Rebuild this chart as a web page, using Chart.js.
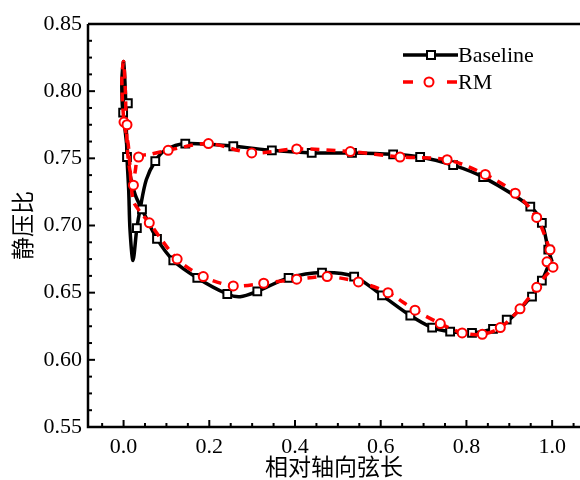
<!DOCTYPE html>
<html>
<head>
<meta charset="utf-8">
<script src="https://cdn.jsdelivr.net/npm/chart.js@4.4.0/dist/chart.umd.min.js"></script>
<style>
  html, body { margin: 0; padding: 0; background: #fff; }
  #wrap { width: 580px; height: 480px; }
</style>
</head>
<body>
<div id="wrap"><canvas id="chart" width="580" height="480"></canvas></div>
<script>
// ==========================================
// DATA
// ==========================================

const seriesNames = ['Baseline', 'RM'];
const xTicks = [0.0, 0.2, 0.4, 0.6, 0.8, 1.0];
const yTicks = [0.55, 0.60, 0.65, 0.70, 0.75, 0.80, 0.85];

// Baseline: smooth curve path around the loop
const baseLineX = [1.000, 0.991, 0.976, 0.949, 0.839, 0.769, 0.692, 0.629, 0.533, 0.439, 0.346, 0.256, 0.144, 0.097, 0.074, 0.053, 0.039, 0.031, 0.022, 0.015, 0.012, 0.008, 0.006, 0.004, 0.000, -0.004, -0.003, -0.001, 0.006, 0.015, 0.027, 0.043, 0.078, 0.116, 0.172, 0.242, 0.272, 0.312, 0.385, 0.463, 0.538, 0.603, 0.669, 0.720, 0.762, 0.813, 0.862, 0.897, 0.951, 0.976, 0.993, 1.000];
const baseLineY = [0.673, 0.682, 0.702, 0.714, 0.736, 0.745, 0.751, 0.753, 0.754, 0.754, 0.756, 0.759, 0.761, 0.756, 0.748, 0.734, 0.713, 0.698, 0.674, 0.697, 0.726, 0.751, 0.779, 0.801, 0.822, 0.808, 0.790, 0.784, 0.764, 0.738, 0.723, 0.712, 0.690, 0.674, 0.661, 0.649, 0.647, 0.651, 0.661, 0.665, 0.662, 0.648, 0.633, 0.624, 0.621, 0.620, 0.623, 0.629, 0.647, 0.659, 0.671, 0.673];

// Baseline: square markers
const baseMarkX = [0.010, -0.001, 0.008, 0.031, 0.043, 0.074, 0.144, 0.256, 0.346, 0.439, 0.533, 0.629, 0.692, 0.769, 0.839, 0.949, 0.976, 0.991, 0.976, 0.953, 0.894, 0.862, 0.813, 0.762, 0.720, 0.669, 0.603, 0.538, 0.463, 0.385, 0.312, 0.242, 0.172, 0.116, 0.078];
const baseMarkY = [0.791, 0.784, 0.751, 0.698, 0.712, 0.748, 0.761, 0.759, 0.756, 0.754, 0.754, 0.753, 0.751, 0.745, 0.736, 0.714, 0.702, 0.682, 0.659, 0.647, 0.630, 0.623, 0.620, 0.621, 0.624, 0.633, 0.648, 0.662, 0.665, 0.661, 0.651, 0.649, 0.661, 0.674, 0.690];

// RM: dashed curve path
const rmLineX = [0.995, 0.964, 0.914, 0.844, 0.755, 0.645, 0.529, 0.404, 0.299, 0.198, 0.104, 0.062, 0.035, 0.027, 0.023, 0.011, 0.006, 0.004, 0.000, -0.004, 0.001, 0.011, 0.022, 0.039, 0.060, 0.125, 0.186, 0.256, 0.327, 0.404, 0.475, 0.548, 0.617, 0.680, 0.739, 0.790, 0.837, 0.879, 0.925, 0.964, 0.986, 1.002, 0.988, 0.995];
const rmLineY = [0.682, 0.706, 0.724, 0.738, 0.749, 0.751, 0.755, 0.757, 0.754, 0.761, 0.756, 0.753, 0.751, 0.740, 0.730, 0.749, 0.779, 0.801, 0.822, 0.808, 0.777, 0.760, 0.719, 0.710, 0.702, 0.675, 0.662, 0.655, 0.657, 0.660, 0.662, 0.658, 0.650, 0.637, 0.627, 0.620, 0.619, 0.624, 0.638, 0.654, 0.663, 0.669, 0.673, 0.682];

// RM: circle markers
const rmMarkX = [0.001, 0.008, 0.023, 0.035, 0.060, 0.104, 0.198, 0.299, 0.404, 0.529, 0.645, 0.755, 0.844, 0.914, 0.964, 0.995, 0.988, 1.002, 0.964, 0.925, 0.879, 0.837, 0.790, 0.739, 0.680, 0.617, 0.548, 0.475, 0.404, 0.327, 0.256, 0.186, 0.125];
const rmMarkY = [0.777, 0.775, 0.730, 0.751, 0.702, 0.756, 0.761, 0.754, 0.757, 0.755, 0.751, 0.749, 0.738, 0.724, 0.706, 0.682, 0.673, 0.669, 0.654, 0.638, 0.624, 0.619, 0.620, 0.627, 0.637, 0.650, 0.658, 0.662, 0.660, 0.657, 0.655, 0.662, 0.675];

// ==========================================
// HELPERS
// ==========================================

const SERIF = "'Liberation Serif', 'Times New Roman', serif";
const CJK = "'Noto Sans CJK SC', sans-serif";

function toPoints(xs, ys) {
  return xs.map((x, i) => ({ x: x, y: ys[i] }));
}

// frame, inward ticks and the legend are drawn by hand
const framePlugin = {
  id: 'frameAndLegend',
  afterDraw(chart) {
    const { ctx, chartArea: a, scales } = chart;
    const xs = scales.x, ys = scales.y;
    ctx.save();
    ctx.strokeStyle = '#000';
    ctx.lineWidth = 2.5;
    ctx.beginPath();
    ctx.moveTo(a.left, a.top);
    ctx.lineTo(a.right, a.top);
    ctx.moveTo(a.left, a.top);
    ctx.lineTo(a.left, a.bottom);
    ctx.lineTo(a.right, a.bottom);
    ctx.stroke();

    // x ticks: major every 0.2, minor every 0.05
    ctx.lineWidth = 2;
    for (let i = -2; i <= 21; i++) {
      const v = i * 0.05;
      const px = xs.getPixelForValue(v);
      if (px < a.left + 2 || px > a.right) continue;
      const len = i % 4 === 0 ? 7 : 4;
      ctx.beginPath();
      ctx.moveTo(px, a.bottom);
      ctx.lineTo(px, a.bottom - len);
      ctx.stroke();
    }
    // y ticks: major every 0.05, minor every 0.0125
    for (let i = 0; i <= 24; i++) {
      const v = 0.55 + i * 0.0125;
      const py = ys.getPixelForValue(v);
      const len = i % 4 === 0 ? 7 : 4;
      ctx.beginPath();
      ctx.moveTo(a.left, py);
      ctx.lineTo(a.left + len, py);
      ctx.stroke();
    }

    // legend
    const lx0 = 403, lx1 = 458, ly = [55, 82];
    ctx.font = '22px ' + SERIF;
    ctx.fillStyle = '#000';
    ctx.textBaseline = 'middle';
    ctx.textAlign = 'left';

    ctx.strokeStyle = '#000';
    ctx.lineWidth = 3.5;
    ctx.beginPath();
    ctx.moveTo(lx0, ly[0]);
    ctx.lineTo(lx1, ly[0]);
    ctx.stroke();
    ctx.fillStyle = '#fff';
    ctx.lineWidth = 2;
    ctx.fillRect(427, ly[0] - 4, 8, 8);
    ctx.strokeRect(427, ly[0] - 4, 8, 8);
    ctx.fillStyle = '#000';
    ctx.fillText(seriesNames[0], lx1, ly[0] + 1);

    ctx.strokeStyle = '#ff0000';
    ctx.lineWidth = 3.5;
    ctx.setLineDash([10, 34]);
    ctx.beginPath();
    ctx.moveTo(lx0, ly[1]);
    ctx.lineTo(lx1, ly[1]);
    ctx.stroke();
    ctx.setLineDash([]);
    ctx.lineWidth = 2;
    ctx.fillStyle = '#fff';
    ctx.beginPath();
    ctx.arc(429, ly[1], 4.5, 0, Math.PI * 2);
    ctx.fill();
    ctx.stroke();
    ctx.fillStyle = '#000';
    ctx.fillText(seriesNames[1], lx1, ly[1] + 1);
    ctx.restore();
  }
};

// ==========================================
// CHART
// ==========================================

new Chart(document.getElementById('chart'), {
  type: 'scatter',
  data: {
    datasets: [
      {
        label: seriesNames[1] + ' markers',
        data: toPoints(rmMarkX, rmMarkY),
        showLine: false,
        pointStyle: 'circle',
        pointRadius: 4.5,
        pointBorderWidth: 2,
        pointBorderColor: '#ff0000',
        pointBackgroundColor: '#fff',
        order: 1
      },
      {
        label: seriesNames[1],
        data: toPoints(rmLineX, rmLineY),
        showLine: true,
        borderColor: '#ff0000',
        borderWidth: 3.5,
        borderDash: [9, 7],
        tension: 0.3,
        pointRadius: 0,
        order: 2
      },
      {
        label: seriesNames[0] + ' markers',
        data: toPoints(baseMarkX, baseMarkY),
        showLine: false,
        pointStyle: 'rect',
        pointRadius: 5.5,
        pointBorderWidth: 2,
        pointBorderColor: '#000',
        pointBackgroundColor: '#fff',
        order: 3
      },
      {
        label: seriesNames[0],
        data: toPoints(baseLineX, baseLineY),
        showLine: true,
        borderColor: '#000',
        borderWidth: 3.5,
        tension: 0.3,
        pointRadius: 0,
        order: 4
      }
    ]
  },
  options: {
    responsive: false,
    animation: false,
    devicePixelRatio: 1,
    layout: { autoPadding: false, padding: { top: 24, left: 0, right: 0, bottom: 0 } },
    plugins: {
      legend: { display: false },
      tooltip: { enabled: false }
    },
    scales: {
      x: {
        type: 'linear',
        min: -0.083,
        max: 1.065,
        afterBuildTicks: s => { s.ticks = xTicks.map(v => ({ value: v })); },
        afterFit: s => { s.height = 53; s.paddingRight = 0; },
        grid: { display: false, drawTicks: false },
        border: { display: false },
        ticks: {
          padding: 7,
          color: '#000',
          autoSkip: false,
          maxRotation: 0,
          font: { family: SERIF, size: 22 },
          callback: v => v.toFixed(1)
        },
        title: {
          display: true,
          text: '相对轴向弦长',
          color: '#000',
          font: { family: CJK, size: 23 },
          padding: { top: 0, bottom: 0 }
        }
      },
      y: {
        type: 'linear',
        min: 0.55,
        max: 0.85,
        afterBuildTicks: s => { s.ticks = yTicks.map(v => ({ value: v })); },
        afterFit: s => { s.width = 88; },
        grid: { display: false, drawTicks: false },
        border: { display: false },
        ticks: {
          padding: 6,
          color: '#000',
          autoSkip: false,
          font: { family: SERIF, size: 22 },
          callback: v => v.toFixed(2)
        },
        title: {
          display: true,
          text: '静压比',
          color: '#000',
          font: { family: CJK, size: 23 },
          padding: { top: 8, bottom: 0 }
        }
      }
    }
  },
  plugins: [framePlugin]
});
</script>
</body>
</html>
